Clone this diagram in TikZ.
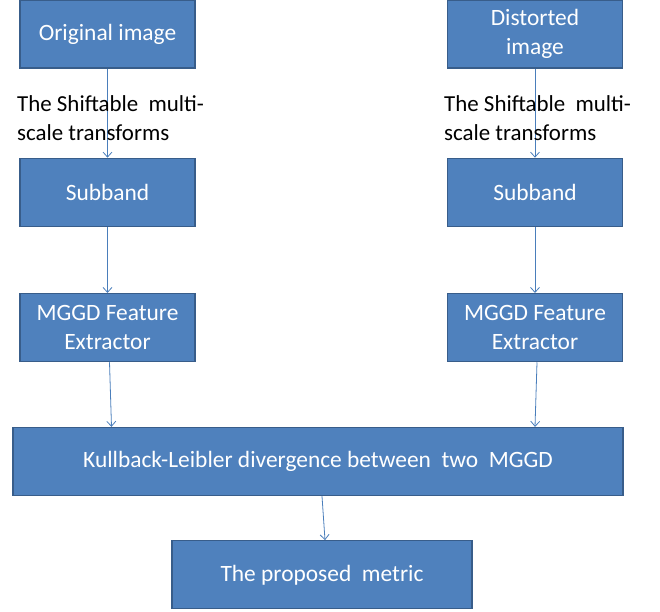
\documentclass[tikz,border=0pt]{standalone}
\usepackage{fontspec}
\setmainfont{Carlito}
\usetikzlibrary{arrows.meta, positioning}

\definecolor{blockfill}{RGB}{79,129,189}
\definecolor{blockedge}{RGB}{56,93,138}
\definecolor{flowline}{RGB}{74,126,187}

\begin{document}
\begin{tikzpicture}[x=1bp, y=-1bp,
    block/.style={draw=blockedge, fill=blockfill, line width=1.3bp, text=white, font=\fontsize{23.5}{29}\selectfont, align=center, minimum width=175bp, minimum height=68bp, inner sep=2pt},
    wide/.style={block, minimum width=610bp},
    result/.style={block, minimum width=300bp},
    flow/.style={draw=flowline, line width=0.8bp, -{Straight Barb[length=5bp, width=9bp]}},
    note/.style={font=\fontsize{23}{29}\selectfont, align=left, anchor=west, inner sep=0pt}]

\useasboundingbox (0,0) rectangle (660,612);

% Left branch
\node[block] (orig) at (107.5, 34) {Original image};
\node[block, below=89bp of orig] (subL) {Subband};
\node[block, below=66bp of subL] (mggdL) {MGGD Feature\\Extractor};

% Right branch
\node[block] (dist) at (535, 34) {Distorted\\image};
\node[block, below=89bp of dist] (subR) {Subband};
\node[block, below=66bp of subR] (mggdR) {MGGD Feature\\Extractor};

% Bottom
\node[wide] (kl) at (318, 461.5) {Kullback-Leibler divergence between~ two~ MGGD};
\node[result, below=44bp of kl, xshift=4bp] (metric) {The proposed~ metric};

% Connectors
\draw[flow] (orig) -- (subL);
\draw[flow] (dist) -- (subR);
\draw[flow] (subL) -- (mggdL);
\draw[flow] (subR) -- (mggdR);
\draw[flow] ([xshift=2bp]mggdL.south) -- ([xshift=4bp]mggdL.south |- kl.north);
\draw[flow] ([xshift=2bp]mggdR.south) -- ([xshift=0bp]mggdR.south |- kl.north);
\draw[flow] ([xshift=4bp]kl.south) -- ([xshift=3bp]metric.north);

% Transform labels
\node[note] (shiftL) at (17, 118) {The Shiftable~ multi-\\scale transforms};
\node[note] (shiftR) at (444, 118) {The Shiftable~ multi-\\scale transforms};

\end{tikzpicture}
\end{document}
